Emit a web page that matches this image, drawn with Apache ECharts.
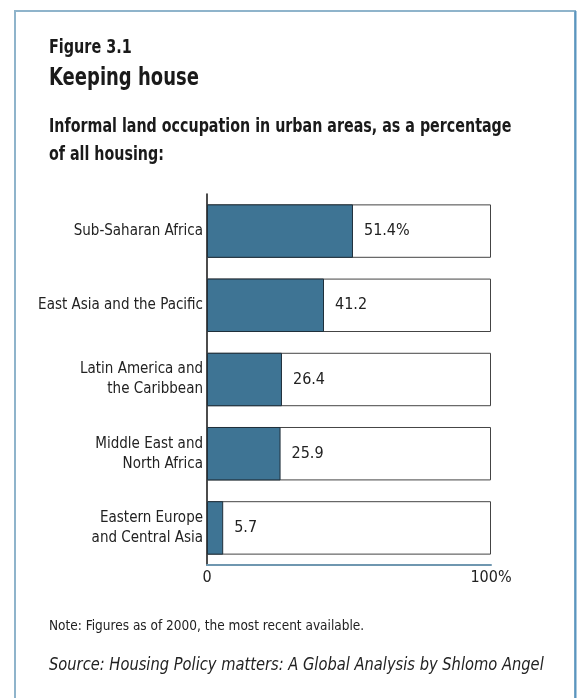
<!DOCTYPE html>
<html>
<head>
<meta charset="utf-8">
<script src="https://cdn.jsdelivr.net/npm/echarts@6/dist/echarts.min.js"></script>
<style>
html,body{margin:0;padding:0;background:#fff;}
#chart{width:581px;height:698px;}
</style>
</head>
<body>
<div id="chart"></div>
<script>
var categories = [
  'Sub-Saharan Africa',
  'East Asia and the Pacific',
  'Latin America and\nthe Caribbean',
  'Middle East and\nNorth Africa',
  'Eastern Europe\nand Central Asia'
];
var values = [51.4, 41.2, 26.4, 25.9, 5.7];
var totals = [100, 100, 100, 100, 100];
var xTicks = {0: '0', 100: '100%'};

var FONT = "'Liberation Sans Narrow', 'DejaVu Sans Condensed', 'Roboto Condensed', 'Liberation Sans', sans-serif";

var chart = echarts.init(document.getElementById('chart'));
chart.setOption({
  animation: false,
  backgroundColor: '#ffffff',
  textStyle: {fontFamily: FONT},
  grid: {left: 207, right: 90, top: 194, bottom: 133, containLabel: false},
  xAxis: {
    type: 'value', min: 0, max: 100, interval: 100,
    axisLine: {show: true, lineStyle: {color: '#6f97b0', width: 2}},
    axisTick: {show: false},
    splitLine: {show: false},
    axisLabel: {
      margin: 5, fontSize: 16, color: '#222', fontFamily: FONT,
      formatter: function (v) { return xTicks[v] !== undefined ? xTicks[v] : ''; }
    }
  },
  yAxis: {
    type: 'category', data: categories, inverse: true,
    axisLine: {show: true, lineStyle: {color: '#111', width: 1.5}},
    axisTick: {show: false},
    axisLabel: {margin: 4, fontSize: 15, lineHeight: 20, color: '#222', fontFamily: FONT}
  },
  series: [
    {
      type: 'bar', data: totals, barWidth: '72%', silent: true,
      itemStyle: {color: '#ffffff', borderColor: '#444', borderWidth: 1}
    },
    {
      type: 'bar', data: values, barWidth: '72%', barGap: '-100%',
      itemStyle: {color: '#3e7494', borderColor: '#1f2f3a', borderWidth: 1},
      label: {
        show: true, position: 'right', distance: 11, fontSize: 16, color: '#222', fontFamily: FONT,
        formatter: function (p) { return p.dataIndex === 0 ? p.value + '%' : String(p.value); }
      }
    }
  ],
  graphic: [
    {type: 'rect', shape: {x: 15, y: 11, width: 560, height: 720}, style: {fill: null, stroke: '#8fb4cb', lineWidth: 2}, silent: true},
    {type: 'line', shape: {x1: 575.5, y1: 11, x2: 575.5, y2: 698}, style: {stroke: '#5b95c0', lineWidth: 2}, silent: true},
    {type: 'text', x: 49, y: 38, scaleX: 0.8, style: {text: 'Figure 3.1', font: "600 20px " + FONT, fill: '#1a1a1a', verticalAlign: 'top'}},
    {type: 'text', x: 49, y: 66, scaleX: 0.8, style: {text: 'Keeping house', font: "bold 25px " + FONT, fill: '#1a1a1a', verticalAlign: 'top'}},
    {type: 'text', x: 49, y: 113, scaleX: 0.835, style: {text: 'Informal land occupation in urban areas, as a percentage\nof all housing:', font: "bold 19px " + FONT, lineHeight: 28, fill: '#1a1a1a', verticalAlign: 'top'}},
    {type: 'text', x: 49, y: 619, scaleX: 0.965, style: {text: 'Note: Figures as of 2000, the most recent available.', font: "14px " + FONT, fill: '#222', verticalAlign: 'top'}},
    {type: 'text', x: 49, y: 657, scaleX: 0.96, style: {text: 'Source: Housing Policy matters: A Global Analysis by Shlomo Angel', font: "italic 17px " + FONT, fill: '#222', verticalAlign: 'top'}}
  ]
});
</script>
</body>
</html>
